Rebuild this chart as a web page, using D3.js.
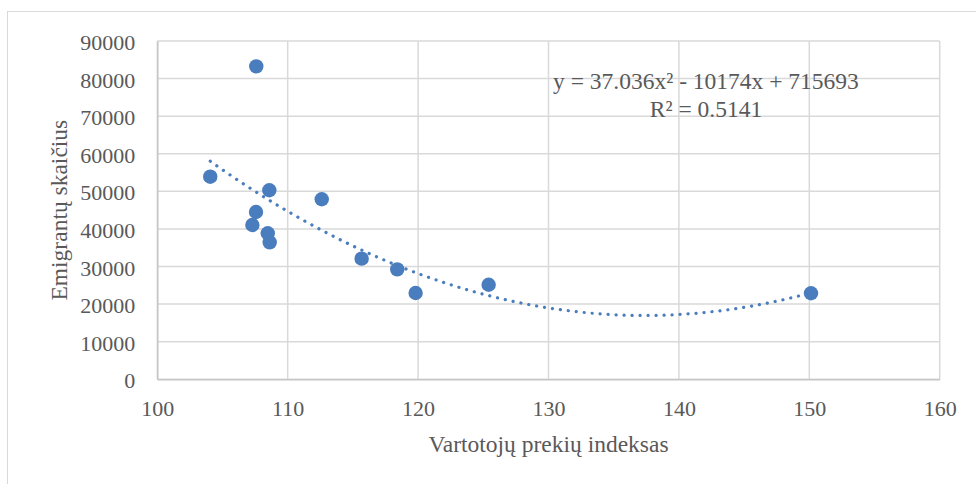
<!DOCTYPE html>
<html>
<head>
<meta charset="utf-8">
<script src="https://cdn.jsdelivr.net/npm/d3@7"></script>
<style>
  html, body { margin: 0; padding: 0; background: #fff; }
  svg { display: block; }
  text { font-family: "Liberation Serif", "Times New Roman", serif; fill: #595959; }
</style>
</head>
<body>
<div id="chart"></div>
<script>
// Vartotojų prekių indeksas (x) ir emigrantų skaičius (y)
const cpiIndex = [104.06, 108.59, 112.61, 107.57, 107.29, 108.47, 108.62, 115.67, 118.40, 119.81, 125.41, 150.13, 107.59];
const emigrants = [53900, 50300, 47900, 44500, 41050, 38850, 36450, 32100, 29250, 22950, 25150, 22900, 83250];

// Polinominė (2 laipsnio) tendencijos linija
const trendCoef = [715693, -10174, 37.036]; // c0, c1, c2
const trendLabel = ["y = 37.036x² - 10174x + 715693", "R² = 0.5141"];

const xTicks = [100, 110, 120, 130, 140, 150, 160];
const yTicks = [0, 10000, 20000, 30000, 40000, 50000, 60000, 70000, 80000, 90000];

const xTitle = "Vartotojų prekių indeksas";
const yTitle = "Emigrantų skaičius";

const W = 976, H = 484;
const margin = { left: 157.3, top: 41, right: W - 939.7, bottom: H - 379.3 };
const serif = "'Liberation Serif', 'Times New Roman', serif";

const svg = d3.select("#chart").append("svg")
  .attr("width", W).attr("height", H);

// chart area frame
svg.append("rect")
  .attr("x", 7.5).attr("y", 11.5)
  .attr("width", W).attr("height", H)
  .attr("fill", "none").attr("stroke", "#d9d9d9").attr("stroke-width", 1);

const x = d3.scaleLinear().domain([100, 160]).range([margin.left, W - margin.right]);
const y = d3.scaleLinear().domain([0, 90000]).range([H - margin.bottom, margin.top]);

// gridlines
const grid = svg.append("g");
grid.selectAll("line.h").data(yTicks).join("line")
  .attr("class", "h")
  .attr("x1", x(100)).attr("x2", x(160))
  .attr("y1", d => y(d)).attr("y2", d => y(d))
  .attr("stroke", "#d9d9d9").attr("stroke-width", 1.5);
grid.selectAll("line.v").data(xTicks).join("line")
  .attr("class", "v")
  .attr("x1", d => x(d)).attr("x2", d => x(d))
  .attr("y1", y(0)).attr("y2", y(90000))
  .attr("stroke", "#d9d9d9").attr("stroke-width", 1.5);

// axes
const xAxis = svg.append("g")
  .attr("transform", `translate(0,${y(0)})`)
  .attr("font-family", serif)
  .call(d3.axisBottom(x).tickValues(xTicks).tickSize(0).tickPadding(0).tickFormat(d3.format("d")));
xAxis.attr("font-family", serif).attr("font-size", 22);
xAxis.select(".domain").attr("stroke", "#c6c6c6").attr("stroke-width", 1.5);
xAxis.selectAll("text")
  .attr("y", 37).attr("dy", null)
  .attr("fill", "#595959");

const yAxis = svg.append("g")
  .attr("transform", `translate(${x(100)},0)`)
  .call(d3.axisLeft(y).tickValues(yTicks).tickSize(0).tickPadding(0).tickFormat(d3.format("d")));
yAxis.attr("font-family", serif).attr("font-size", 22);
yAxis.select(".domain").attr("stroke", "#c6c6c6").attr("stroke-width", 1.5);
yAxis.selectAll("text")
  .attr("x", -22).attr("dy", null).attr("y", 8.5)
  .attr("fill", "#595959");

// trendline over the data range
const trend = x0 => trendCoef[0] + trendCoef[1] * x0 + trendCoef[2] * x0 * x0;
const [xmin, xmax] = d3.extent(cpiIndex);
const trendPts = d3.range(0, 201).map(i => {
  const xv = xmin + (xmax - xmin) * i / 200;
  return [xv, trend(xv)];
});
svg.append("path")
  .datum(trendPts)
  .attr("d", d3.line().x(d => x(d[0])).y(d => y(d[1])))
  .attr("fill", "none")
  .attr("stroke", "#4a7dbd")
  .attr("stroke-width", 3.2)
  .attr("stroke-linecap", "round")
  .attr("stroke-dasharray", "0.1 7.9");

// points
svg.append("g").selectAll("circle")
  .data(cpiIndex.map((v, i) => [v, emigrants[i]]))
  .join("circle")
  .attr("cx", d => x(d[0]))
  .attr("cy", d => y(d[1]))
  .attr("r", 7.2)
  .attr("fill", "#4a7dbd");

// trendline equation
const eq = svg.append("text")
  .attr("text-anchor", "middle")
  .style("font-family", serif)
  .style("font-size", "23.5px");
eq.append("tspan").attr("x", 706).attr("y", 89).text(trendLabel[0]);
eq.append("tspan").attr("x", 706).attr("y", 117).text(trendLabel[1]);

// axis titles
svg.append("text")
  .attr("x", (x(100) + x(160)) / 2).attr("y", 452)
  .attr("text-anchor", "middle")
  .style("font-family", serif)
  .style("font-size", "23.5px")
  .text(xTitle);

svg.append("text")
  .attr("transform", `translate(66.5,${(y(0) + y(90000)) / 2}) rotate(-90)`)
  .attr("text-anchor", "middle")
  .style("font-family", serif)
  .style("font-size", "23.5px")
  .text(yTitle);
</script>
</body>
</html>
